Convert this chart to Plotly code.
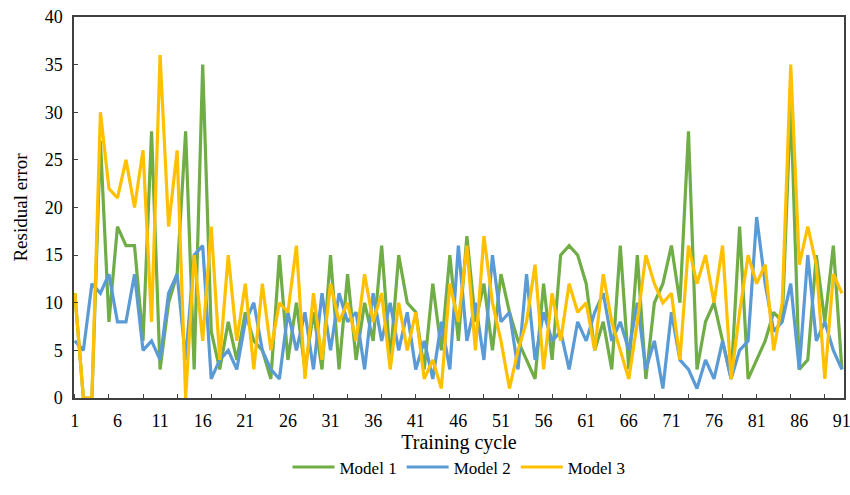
import plotly.graph_objects as go

cycles = list(range(1, 92))

model1 = [11, 0, 0, 27, 8, 18, 16, 16, 6, 28,
          3, 10, 13, 28, 3, 35, 7, 3, 8, 4,
          9, 6, 5, 2, 15, 4, 10, 3, 9, 3,
          15, 3, 13, 4, 10, 6, 16, 4, 15, 10,
          9, 3, 12, 5, 15, 6, 17, 8, 12, 5,
          13, 9, 6, 4, 2, 12, 4, 15, 16, 15,
          12, 5, 8, 3, 16, 3, 15, 2, 10, 12,
          16, 10, 28, 3, 8, 10, 6, 2, 18, 2,
          4, 6, 9, 8, 31, 3, 4, 15, 8, 16,
          3]

model2 = [6, 5, 12, 11, 13, 8, 8, 13, 5, 6,
          4, 11, 13, 4, 15, 16, 2, 4, 5, 3,
          8, 10, 5, 3, 2, 9, 5, 9, 3, 11,
          5, 11, 8, 9, 3, 11, 6, 10, 5, 9,
          3, 6, 2, 8, 3, 16, 6, 10, 4, 15,
          8, 9, 3, 13, 4, 9, 6, 7, 3, 8,
          6, 9, 11, 6, 8, 5, 10, 3, 6, 1,
          9, 4, 3, 1, 4, 2, 6, 2, 5, 6,
          19, 12, 7, 8, 12, 3, 15, 6, 8, 5,
          3]

model3 = [11, 0, 0, 30, 22, 21, 25, 20, 26, 8,
          36, 18, 26, 0, 15, 6, 18, 4, 15, 6,
          12, 3, 12, 5, 10, 9, 16, 2, 11, 4,
          12, 8, 10, 6, 13, 8, 11, 3, 10, 5,
          9, 2, 4, 1, 12, 8, 16, 5, 17, 10,
          6, 1, 5, 8, 14, 3, 11, 6, 12, 9,
          10, 5, 13, 8, 5, 2, 8, 15, 12, 10,
          11, 4, 16, 12, 15, 10, 16, 2, 9, 15,
          12, 14, 5, 10, 35, 14, 18, 14, 2, 13,
          11]

x_labels = list(range(1, 92, 5))
y_ticks = list(range(0, 41, 5))

series = [("Model 1", model1, "#70AD47"),
          ("Model 2", model2, "#5B9BD5"),
          ("Model 3", model3, "#FFC000")]

FONT = "Liberation Serif"

fig = go.Figure()
for name, vals, color in series:
    fig.add_trace(go.Scatter(x=cycles, y=vals, mode="lines", name=name,
                             line=dict(color=color, width=3.2)))

fig.update_layout(
    width=850, height=495,
    margin=dict(l=74, r=6, t=17, b=97, autoexpand=False),
    plot_bgcolor="white", paper_bgcolor="white",
    font=dict(family=FONT, size=17, color="#000000"),
    showlegend=True,
    legend=dict(orientation="h", x=0.5, xanchor="center", y=-0.135, yanchor="top",
                font=dict(family=FONT, size=17), itemwidth=42,
                traceorder="normal", tracegroupgap=0),
    xaxis=dict(
        range=[0.9, 91.25],
        tickmode="array", tickvals=x_labels, ticktext=[str(v) for v in x_labels],
        ticks="", showgrid=False, zeroline=False,
        showline=True, linecolor="#404040", linewidth=1.5, mirror=True,
        tickfont=dict(family=FONT, size=18),
        ticklabelstandoff=6, ticklabeloverflow="allow",
        minor=dict(tick0=1, dtick=4, ticks="inside", ticklen=4,
                   tickcolor="#404040", showgrid=False),
        title=dict(text="Training cycle", font=dict(family=FONT, size=20), standoff=0),
    ),
    yaxis=dict(
        range=[0, 40],
        tickmode="array", tickvals=y_ticks,
        ticks="inside", ticklen=4, tickcolor="#404040",
        showgrid=False, zeroline=False,
        showline=True, linecolor="#404040", linewidth=1.5, mirror=True,
        tickfont=dict(family=FONT, size=18),
        ticklabelstandoff=6,
        title=dict(text="Residual error", font=dict(family=FONT, size=19), standoff=12),
    ),
)

fig.write_html("out.html")
